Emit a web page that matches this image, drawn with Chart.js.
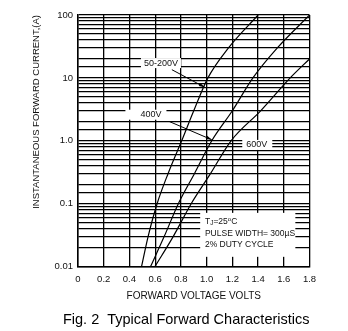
<!DOCTYPE html>
<html lang="en">
<head>
<meta charset="UTF-8">
<title>Fig. 2 Typical Forward Characteristics</title>
<script src="https://cdn.jsdelivr.net/npm/chart.js"></script>
<style>
  html, body { margin: 0; padding: 0; background: #fff; }
</style>
</head>
<body>
<canvas id="fwdChart" width="348" height="331"></canvas>
<script>
// forward current (A) vs forward voltage (V)
const amps50_200 = [0.01, 0.03, 0.1, 0.3, 1, 3, 10, 30, 100];
const volts50_200 = [0.494, 0.545, 0.615, 0.70, 0.806, 0.90, 1.01, 1.17, 1.40];

const amps400 = [0.01, 0.03, 0.1, 0.3, 1, 3, 10, 30, 100];
const volts400 = [0.564, 0.67, 0.78, 0.905, 1.04, 1.20, 1.36, 1.55, 1.80];

const amps600 = [0.01, 0.03, 0.1, 0.3, 1, 3, 10, 20];
const volts600 = [0.598, 0.74, 0.88, 1.03, 1.19, 1.42, 1.65, 1.80];

const voltTicks = [0, 0.2, 0.4, 0.6, 0.8, 1.0, 1.2, 1.4, 1.6, 1.8];
const ampDecades = [0.01, 0.1, 1, 10, 100];
const ampLabels = ['0.01', '0.1', '1.0', '10', '100'];

const FONT = "'Liberation Sans', Arial, sans-serif";
const INK = '#111';

const toPoints = (amps, volts) => volts.map((v, i) => ({ x: v, y: amps[i] }));

const curve = (label, amps, volts) => ({
  label: label,
  data: toPoints(amps, volts),
  borderColor: '#000',
  borderWidth: 1.2,
  pointRadius: 0,
  fill: false,
  cubicInterpolationMode: 'monotone'
});

// text labels, arrows and the test conditions box
const notes = {
  id: 'notes',
  afterDatasetsDraw(chart) {
    const ctx = chart.ctx;
    const xs = chart.scales.x, ys = chart.scales.y;
    const px = v => xs.getPixelForValue(v);
    const py = a => ys.getPixelForValue(a);

    ctx.save();
    ctx.font = '9px ' + FONT;
    ctx.textBaseline = 'middle';

    const tag = (text, v, a, padL, padR) => {
      const w = ctx.measureText(text).width;
      const cx = px(v), cy = py(a);
      ctx.fillStyle = '#fff';
      ctx.fillRect(cx - w / 2 - padL, cy - 5, w + padL + padR, 10);
      ctx.fillStyle = INK;
      ctx.textAlign = 'center';
      ctx.fillText(text, cx, cy);
    };

    const arrow = (v1, a1, v2, a2) => {
      const x1 = px(v1), y1 = py(a1), x2 = px(v2), y2 = py(a2);
      const ang = Math.atan2(y2 - y1, x2 - x1);
      ctx.strokeStyle = '#000';
      ctx.lineWidth = 1;
      ctx.beginPath();
      ctx.moveTo(x1, y1);
      ctx.lineTo(x2, y2);
      ctx.stroke();
      ctx.fillStyle = '#000';
      ctx.beginPath();
      ctx.moveTo(x2, y2);
      ctx.lineTo(x2 - 6 * Math.cos(ang - 0.3), y2 - 6 * Math.sin(ang - 0.3));
      ctx.lineTo(x2 - 6 * Math.cos(ang + 0.3), y2 - 6 * Math.sin(ang + 0.3));
      ctx.closePath();
      ctx.fill();
    };

    tag('50-200V', 0.645, 17.2, 3, 3);
    arrow(0.73, 13.5, 0.985, 7.1);
    tag('400V', 0.567, 2.6, 15, 5);
    arrow(0.709, 2.03, 1.04, 1.04);
    tag('600V', 1.39, 0.86, 4, 5);

    // conditions box
    const bx1 = px(0.95), bx2 = px(1.69), by1 = py(0.0715), by2 = py(0.0143);
    ctx.fillStyle = '#fff';
    ctx.fillRect(bx1, by1, bx2 - bx1, by2 - by1);
    ctx.fillStyle = INK;
    ctx.textAlign = 'left';
    const tx = px(0.987);
    const y1 = py(0.0512);
    ctx.font = '8.5px ' + FONT;
    ctx.fillText('T', tx, y1);
    let w = ctx.measureText('T').width;
    ctx.font = '6.5px ' + FONT;
    ctx.fillText('J', tx + w, y1 + 1);
    w += ctx.measureText('J').width;
    ctx.font = '8.5px ' + FONT;
    ctx.fillText('=25', tx + w, y1);
    w += ctx.measureText('=25').width;
    ctx.font = '6px ' + FONT;
    ctx.fillText('o', tx + w, y1 - 3);
    w += ctx.measureText('o').width;
    ctx.font = '8.5px ' + FONT;
    ctx.fillText('C', tx + w, y1);
    ctx.fillText('PULSE WIDTH= 300\u00b5S', tx, py(0.0331));
    ctx.fillText('2% DUTY CYCLE', tx, py(0.0221));
    ctx.restore();
  }
};

new Chart(document.getElementById('fwdChart'), {
  type: 'line',
  data: {
    datasets: [
      curve('50-200V', amps50_200, volts50_200),
      curve('400V', amps400, volts400),
      curve('600V', amps600, volts600)
    ]
  },
  options: {
    responsive: false,
    animation: false,
    layout: { padding: { top: 15, right: 38.5, left: 0, bottom: 0 } },
    plugins: {
      legend: { display: false },
      tooltip: { enabled: false },
      title: {
        display: true,
        position: 'bottom',
        align: 'end',
        text: 'Fig. 2  Typical Forward Characteristics',
        color: '#000',
        font: { family: FONT, size: 14.5, weight: 'normal' },
        padding: { top: 4, bottom: 2 }
      }
    },
    scales: {
      x: {
        type: 'linear',
        min: 0,
        max: 1.8,
        afterBuildTicks: s => { s.ticks = voltTicks.map(v => ({ value: v })); },
        afterFit: s => { s.height = 41; },
        ticks: {
          autoSkip: false,
          maxRotation: 0,
          padding: 7,
          color: INK,
          font: { family: FONT, size: 9.5 },
          callback: v => (v === 0 ? '0' : Number(v).toFixed(1))
        },
        grid: { color: '#000', lineWidth: 1.3, drawTicks: false },
        border: { color: '#000', width: 1.5 },
        title: {
          display: true,
          text: 'FORWARD VOLTAGE VOLTS',
          color: INK,
          font: { family: FONT, size: 10 },
          padding: { top: 0, bottom: 5 }
        }
      },
      y: {
        type: 'logarithmic',
        min: 0.01,
        max: 100,
        afterFit: s => { s.width = 78; },
        ticks: {
          autoSkip: false,
          padding: 5,
          color: INK,
          font: { family: FONT, size: 9.5 },
          callback: v => {
            const i = ampDecades.findIndex(d => Math.abs(v - d) < d * 1e-6);
            return i >= 0 ? ampLabels[i] : '';
          }
        },
        grid: { color: '#000', lineWidth: 1.3, drawTicks: false },
        border: { color: '#000', width: 1.5 },
        title: {
          display: true,
          text: 'INSTANTANEOUS FORWARD CURRENT,(A)',
          align: 'end',
          color: INK,
          font: { family: FONT, size: 9.5 },
          padding: { top: 31, bottom: 0 }
        }
      }
    }
  },
  plugins: [notes]
});
</script>
</body>
</html>
